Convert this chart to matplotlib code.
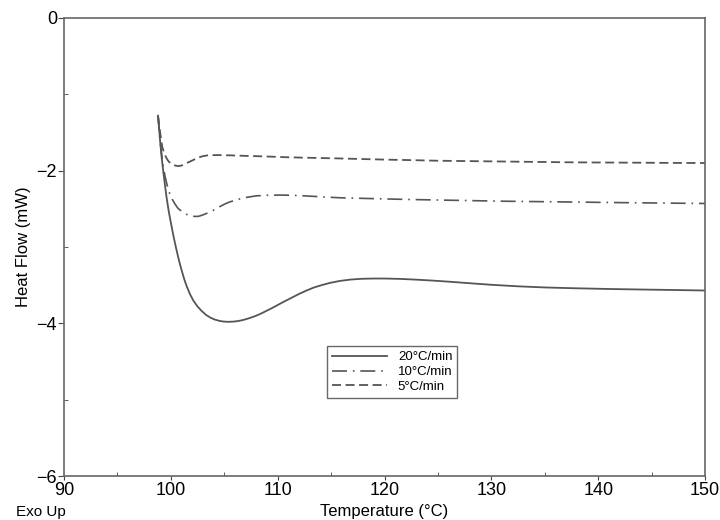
import numpy as np
import matplotlib.pyplot as plt

plt.rcParams['font.family'] = ['Liberation Sans', 'DejaVu Sans']

# values
t20 = [98.8, 98.9, 99.0, 99.15, 99.3, 99.45, 99.6, 99.8, 100.0, 100.25, 100.5, 100.75, 101.0,
       101.25, 101.5, 101.8, 102.1, 102.5, 102.9, 103.3, 103.7, 104.1, 104.5, 104.9, 105.3,
       105.8, 106.3, 106.8, 107.4, 107.9, 108.4, 108.9, 109.4, 110.0, 110.6, 111.3, 112.0,
       112.7, 113.4, 114.1, 114.9, 115.8, 116.8, 117.8, 118.9, 120.0, 121.5, 123.0, 124.5,
       126.1, 128.0, 130.0, 132.5, 135.0, 137.7, 141.0, 144.0, 147.0, 150.0]
hf20 = [-1.28, -1.45, -1.62, -1.84, -2.02, -2.19, -2.35, -2.53, -2.68, -2.86, -3.02, -3.17, -3.30,
        -3.42, -3.52, -3.62, -3.70, -3.78, -3.84, -3.89, -3.925, -3.95, -3.966, -3.976, -3.98,
        -3.978, -3.97, -3.955, -3.93, -3.905, -3.875, -3.84, -3.805, -3.76, -3.715, -3.665, -3.615,
        -3.57, -3.53, -3.50, -3.47, -3.445, -3.427, -3.417, -3.413, -3.413, -3.418, -3.428, -3.44,
        -3.455, -3.475, -3.495, -3.515, -3.53, -3.54, -3.55, -3.557, -3.563, -3.57]

t10 = [98.8, 98.9, 99.0, 99.15, 99.3, 99.45, 99.6, 99.75, 99.9, 100.15, 100.4, 100.65, 100.9,
       101.2, 101.6, 101.9, 102.3, 102.6, 103.0, 103.35, 103.7, 104.1, 104.6, 105.0, 105.5,
       106.1, 106.7, 107.3, 108.0, 109.0, 110.2, 111.3, 112.5, 114.0, 115.8, 118.0, 120.0,
       122.5, 125.2, 128.0, 131.0, 134.0, 137.0, 140.0, 143.0, 146.5, 150.0]
hf10 = [-1.28, -1.45, -1.62, -1.80, -1.95, -2.07, -2.16, -2.24, -2.30, -2.38, -2.44, -2.49, -2.52,
        -2.555, -2.58, -2.595, -2.60, -2.598, -2.58, -2.56, -2.54, -2.51, -2.47, -2.44, -2.41,
        -2.385, -2.36, -2.345, -2.33, -2.322, -2.32, -2.322, -2.33, -2.342, -2.355, -2.363, -2.37,
        -2.378, -2.385, -2.392, -2.40, -2.405, -2.41, -2.415, -2.42, -2.425, -2.43]

t5 = [98.8, 98.9, 99.0, 99.1, 99.2, 99.35, 99.5, 99.65, 99.8, 100.0, 100.2, 100.45, 100.7,
      100.95, 101.2, 101.5, 101.8, 102.1, 102.4, 102.7, 103.0, 103.4, 103.9, 104.4, 104.9,
      105.7, 106.5, 107.2, 108.0, 109.5, 111.0, 113.5, 115.8, 118.0, 120.0, 122.5, 125.0,
      128.0, 131.0, 134.0, 137.0, 140.0, 143.0, 146.5, 150.0]
hf5 = [-1.28, -1.40, -1.50, -1.60, -1.69, -1.76, -1.81, -1.85, -1.88, -1.905, -1.92, -1.935, -1.94,
       -1.935, -1.92, -1.90, -1.88, -1.86, -1.84, -1.823, -1.81, -1.80, -1.797, -1.796, -1.797,
       -1.80, -1.804, -1.807, -1.81, -1.817, -1.825, -1.833, -1.84, -1.848, -1.855, -1.862, -1.87,
       -1.875, -1.88, -1.885, -1.89, -1.893, -1.895, -1.898, -1.90]

labels = ['20\u00b0C/min', '10\u00b0C/min', '5\u00b0C/min']

col = '#555555'
fig = plt.figure(figsize=(7.2, 5.2), dpi=100)
ax = fig.add_axes([0.0889, 0.0846, 0.8903, 0.8808])

ax.plot(t20, hf20, color=col, lw=1.3, label=labels[0])
ax.plot(t10, hf10, color=col, lw=1.2, linestyle=(0, (9, 3.5, 1, 3.5)), label=labels[1])
ax.plot(t5, hf5, color=col, lw=1.3, linestyle=(0, (5, 2.5)), label=labels[2])

ax.set_xlim(90, 150)
ax.set_ylim(-6, 0)
ax.set_xticks([90, 100, 110, 120, 130, 140, 150])
ax.set_xticks(np.arange(95, 150, 10), minor=True)
ax.set_yticks([-6, -4, -2, 0])
ax.set_yticks([-5, -3, -1], minor=True)
ax.set_yticklabels(['\u22126', '\u22124', '\u22122', '0'])
ax.tick_params(axis='both', which='major', labelsize=13, colors='#444444', labelcolor='black')
ax.tick_params(axis='y', which='major', direction='out', length=4, pad=1)
ax.tick_params(axis='x', which='major', direction='out', length=3, pad=1)
ax.tick_params(axis='both', which='minor', direction='in', length=3, colors='#444444')

for s in ax.spines.values():
    s.set_color('#666666')
    s.set_linewidth(1.2)

ax.set_xlabel('Temperature (\u00b0C)', fontsize=12, labelpad=4)
ax.set_ylabel('Heat Flow (mW)', fontsize=12, labelpad=4)
fig.text(0.022, 0.008, 'Exo Up', fontsize=11)

leg = ax.legend(loc='center', bbox_to_anchor=(0.512, 0.227), fontsize=9.5, frameon=True,
                fancybox=False, handlelength=4.2, borderpad=0.35, labelspacing=0.2,
                handletextpad=0.8)
leg.get_frame().set_edgecolor('#444444')
leg.get_frame().set_linewidth(1.0)

fig.savefig('out.png', dpi=100)
